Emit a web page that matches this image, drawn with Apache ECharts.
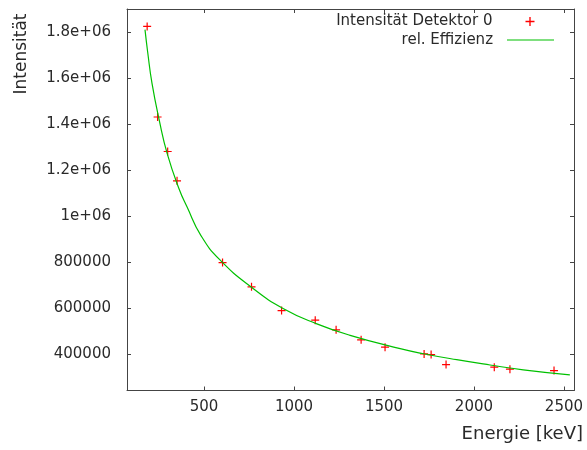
<!DOCTYPE html>
<html><head><meta charset="utf-8">
<script src="https://cdn.jsdelivr.net/npm/echarts@6/dist/echarts.min.js"></script>
<style>html,body{margin:0;padding:0;background:#fff}#c{width:587px;height:450px}</style>
</head><body><div id="c"></div>
<script>
// measured points (red +)
const energy    = [184, 242, 298, 350, 603, 764, 931, 1118, 1234, 1373, 1506, 1723, 1762, 1845, 2113, 2200, 2445];
const intensity = [1826000, 1432000, 1282000, 1154500, 798800, 693000, 589800, 548000, 505800, 462300, 430500, 401300, 398300, 354700, 343400, 334700, 328600];
// fitted curve (green line)
const fitEnergy = [172, 187, 211, 252, 295, 361, 406, 483, 590, 766, 942, 1127, 1312, 1590, 1719, 1904, 2089, 2274, 2533];
const fitValue  = [1812000, 1714000, 1578000, 1415000, 1274000, 1120000, 1040000, 916000, 809000, 690000, 598000, 532000, 482000, 424000, 402000, 376000, 353000, 332000, 310000];
// ticks
const xTicks = [500, 1000, 1500, 2000, 2500];
const xTickLabels = ['500', '1000', '1500', '2000', '2500'];
const yTicks = [400000, 600000, 800000, 1000000, 1200000, 1400000, 1600000, 1800000];
const yTickLabels = ['400000', '600000', '800000', '1e+06', '1.2e+06', '1.4e+06', '1.6e+06', '1.8e+06'];
const seriesNames = ['Intensität Detektor 0', 'rel. Effizienz'];
const xTitle = 'Energie [keV]';
const yTitle = 'Intensität';

const FONT = 'DejaVu Sans';
const TXT = '#2a2a2a';
const AX = '#444';
const xMin = 72, xMax = 2556, yMin = 242000, yMax = 1902000;

const chart = echarts.init(document.getElementById('c'), null, {renderer: 'canvas'});

function xAx(pos, showLabel) {
  return {
    type: 'value', min: xMin, max: xMax, position: pos,
    axisLine: {show: true, onZero: false, lineStyle: {color: AX, width: 1}},
    axisTick: {show: true, inside: true, length: 4, customValues: xTicks, lineStyle: {color: AX}},
    axisLabel: {
      show: showLabel, customValues: xTicks, fontSize: 15, fontFamily: FONT, color: TXT, margin: 9,
      formatter: v => { const i = xTicks.indexOf(v); return i >= 0 ? xTickLabels[i] : ''; }
    },
    splitLine: {show: false}
  };
}
function yAx(pos, showLabel) {
  return {
    type: 'value', min: yMin, max: yMax, position: pos,
    axisLine: {show: true, onZero: false, lineStyle: {color: AX, width: 1}},
    axisTick: {show: true, inside: true, length: 4, customValues: yTicks, lineStyle: {color: AX}},
    axisLabel: {
      show: showLabel, customValues: yTicks, fontSize: 15, fontFamily: FONT, color: TXT, margin: 16,
      formatter: v => { const i = yTicks.indexOf(v); return i >= 0 ? yTickLabels[i] : ''; }
    },
    splitLine: {show: false}
  };
}

const plusPath = 'path://M0,3.4h8v1.2h-8z M3.4,0h1.2v8h-1.2z';
const linePath = 'path://M0,0h47v1.2h-47z';

chart.setOption({
  backgroundColor: '#fff',
  animation: false,
  grid: {left: 127, top: 9, right: 13, bottom: 59.5, containLabel: false},
  xAxis: [xAx('bottom', true), xAx('top', false)],
  yAxis: [yAx('left', true), yAx('right', false)],
  legend: [
    {
      data: [{name: seriesNames[0], icon: plusPath}], orient: 'vertical', align: 'right', right: 52.5, top: 13,
      itemWidth: 9, itemHeight: 9, padding: 0, selectedMode: false,
      textStyle: {fontSize: 15, fontFamily: FONT, color: TXT, lineHeight: 17, padding: [0, 28, 0, 0]}
    },
    {
      data: [{name: seriesNames[1], icon: linePath}], orient: 'vertical', align: 'right', right: 33, top: 31.5,
      itemWidth: 47, itemHeight: 9, padding: 0, selectedMode: false,
      textStyle: {fontSize: 15, fontFamily: FONT, color: TXT, lineHeight: 17, padding: [0, 9, 0, 0]}
    }
  ],
  graphic: [
    {type: 'text', x: 22, y: 54, rotation: Math.PI / 2,
     style: {text: yTitle, fontSize: 17, fontFamily: FONT, fill: TXT, textAlign: 'center', textVerticalAlign: 'middle'}},
    {type: 'text', x: 583, y: 434,
     style: {text: xTitle, fontSize: 18, fontFamily: FONT, fill: TXT, textAlign: 'right', textVerticalAlign: 'middle'}}
  ],
  series: [
    {
      name: seriesNames[0], type: 'scatter', xAxisIndex: 0, yAxisIndex: 0,
      symbol: plusPath, symbolSize: 8,
      itemStyle: {color: '#ff0000', opacity: 1},
      data: energy.map((e, i) => [e, intensity[i]]), z: 2
    },
    {
      name: seriesNames[1], type: 'line', xAxisIndex: 0, yAxisIndex: 0,
      symbol: 'none', smooth: 0.5,
      lineStyle: {color: '#00c000', width: 1.2},
      itemStyle: {color: '#00c000'},
      data: fitEnergy.map((e, i) => [e, fitValue[i]]), z: 3
    }
  ]
});
</script>
</body></html>
